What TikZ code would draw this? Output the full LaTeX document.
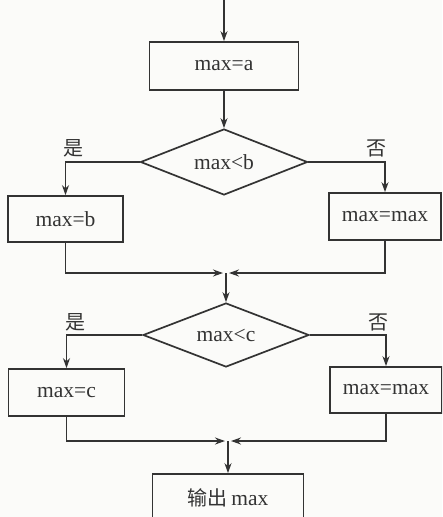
\documentclass[tikz,border=0pt]{standalone}
\usepackage{fontspec}
\setmainfont{Liberation Serif}
\newfontfamily\latinrm{Liberation Serif}
\newfontfamily\cjk{Noto Sans CJK SC}
\usetikzlibrary{shapes.geometric,arrows.meta}
\definecolor{ink}{HTML}{333333}
\definecolor{paper}{HTML}{FBFBF9}
\begin{document}
\begin{tikzpicture}[x=1pt,y=-1pt,
  every node/.style={text=ink,font=\latinrm\fontsize{21.5}{25}\selectfont},
  procbox/.style={draw=ink,line width=1.7pt,rectangle,inner sep=0pt},
  testbox/.style={draw=ink,line width=1.7pt,diamond,inner sep=0pt,aspect=2.5},
  flow/.style={draw=ink,line width=1.7pt,-{Stealth[length=10pt,width=7pt]}},
  lbl/.style={font=\cjk\fontsize{20}{23}\selectfont}]
  \fill[paper] (0,0) rectangle (442,517);
  \useasboundingbox (0,0) rectangle (442,517);
  \clip (0,0) rectangle (442,517);

  % start and first assignment
  \coordinate (start) at (224,-5);
  \node[procbox,minimum width=149pt,minimum height=48pt] (a) at (224,66) {max=a};

  % first comparison
  \node[testbox,minimum width=167pt,minimum height=66pt] (d1) at (224,162) {max<b};
  \node[procbox,minimum width=115pt,minimum height=46pt] (b) at (65.5,219) {max=b};
  \node[procbox,minimum width=112pt,minimum height=47pt] (m1) at (385,216.5) {max=max};
  \node[lbl] (y1) at (73,148) {是};
  \node[lbl] (n1) at (376,148) {否};
  \coordinate (j1) at (226,273);

  % second comparison
  \node[testbox,minimum width=166pt,minimum height=64pt] (d2) at (226,335) {max<c};
  \node[procbox,minimum width=116pt,minimum height=47pt] (c) at (66.5,392.5) {max=c};
  \node[procbox,minimum width=112pt,minimum height=46pt] (m2) at (386,390) {max=max};
  \node[lbl] (y2) at (75,322) {是};
  \node[lbl] (n2) at (378,322) {否};
  \coordinate (j2) at (228,441);

  % output
  \node[procbox,minimum width=151pt,minimum height=48pt] (out) at (228,498)
       {{\cjk\fontsize{20}{23}\selectfont 输出}\,max};

  % connectors
  \draw[flow] (start) -- (a);
  \draw[flow] (a) -- (d1);
  \draw[flow] (d1.west) -| (b.north);
  \draw[flow] (d1.east) -| (m1.north);
  \draw[flow] (b.south) |- ([xshift=-3pt]j1);
  \draw[flow] (m1.south) |- ([xshift=3pt]j1);
  \draw[flow] (j1) -- (d2.north);
  \draw[flow] (d2.west) -| (c.north);
  \draw[flow] (d2.east) -| (m2.north);
  \draw[flow] (c.south) |- ([xshift=-3pt]j2);
  \draw[flow] (m2.south) |- ([xshift=3pt]j2);
  \draw[flow] (j2) -- (out.north);
\end{tikzpicture}
\end{document}
